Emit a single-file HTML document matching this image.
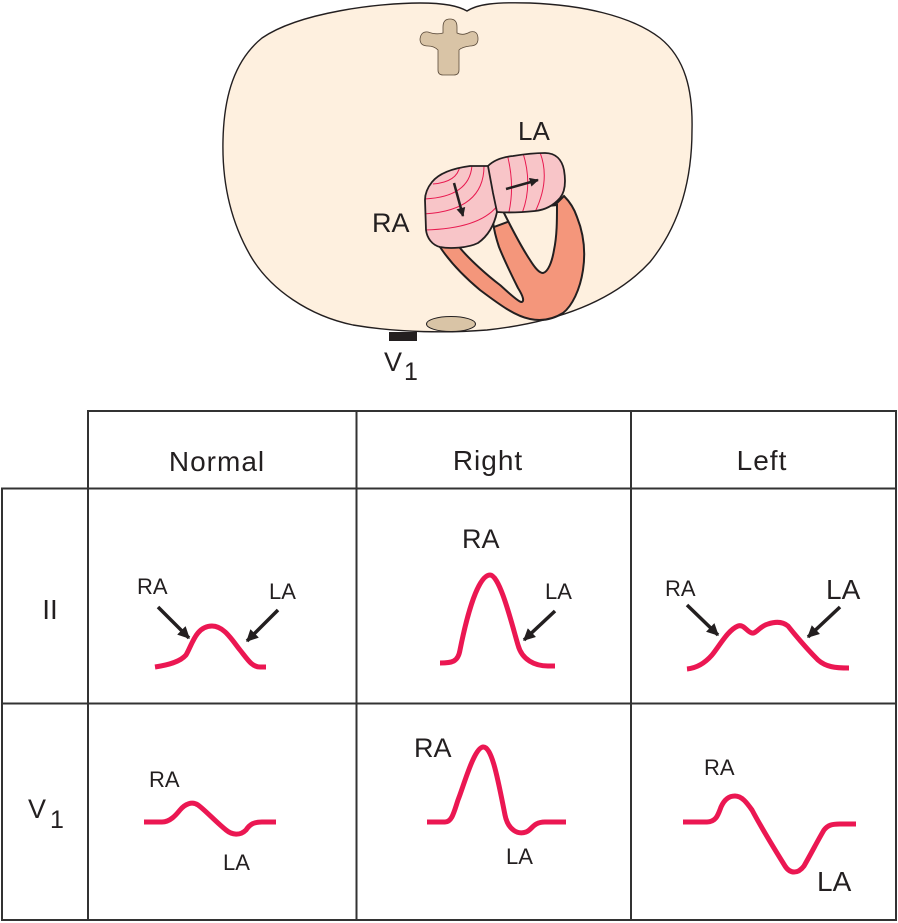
<!DOCTYPE html>
<html><head><meta charset="utf-8"><style>
html,body{margin:0;padding:0;background:#fff;}
svg{display:block;}
text{font-family:"Liberation Sans",Arial,sans-serif;fill:#231f20;}
</style></head><body>
<svg width="898" height="923" viewBox="0 0 898 923" xmlns="http://www.w3.org/2000/svg">
<defs>
<marker id="ah" viewBox="0 0 10 10" refX="9" refY="5" markerWidth="14" markerHeight="12" markerUnits="userSpaceOnUse" orient="auto"><path d="M0,0 L10,5 L0,10 z" fill="#231f20"/></marker>
<marker id="ahs" viewBox="0 0 10 10" refX="9" refY="5" markerWidth="11" markerHeight="9" markerUnits="userSpaceOnUse" orient="auto"><path d="M0,0 L10,5 L0,10 z" fill="#231f20"/></marker>
<clipPath id="raclip"><path d="M 432,182 C 440,172 455,168 470,166 L 488,166 L 493,193 L 497,212 C 494,226 488,236 478,243 C 468,248 450,249 440,247 C 432,245 427,238 426,230 L 425,200 C 425,193 428,187 432,182 Z"/></clipPath>
<clipPath id="laclip"><path d="M 488,166 C 494,160 503,157 513,156 C 525,154 535,153 545,153 C 556,153 562,160 564,170 C 566,182 565,192 560,198 C 553,206 545,210 535,211 C 525,212 510,213 497,212 L 493,193 Z"/></clipPath>
</defs>

<!-- body -->
<path d="M 467,11 C 478,4 495,2 530,3 C 580,5 630,15 660,38 C 685,58 693,90 692,130 C 692,180 680,225 650,262 C 615,300 560,322 487,330 C 450,333 400,333 353,325 C 310,316 270,290 250,255 C 230,220 222,180 223,140 C 224,95 235,60 262,38 C 300,12 380,3 420,3 C 445,3 458,6 467,11 Z" fill="#fef0df" stroke="#231f20" stroke-width="1.4"/>

<!-- spine -->
<path d="M 443,27 Q 443,19 450,19 Q 457,19 457,27 L 457,33 Q 463,36 470,32 Q 478,30 478,39 Q 478,46 470,46 Q 462,47 459,50 L 459,70 Q 459,75 454,75 L 443,75 Q 438,75 438,70 L 438,50 Q 434,46 428,46 Q 420,46 420,39 Q 421,31 428,32 Q 436,35 443,33 Z" fill="#d9c4a6" stroke="#5a4a3a" stroke-width="0.8"/>

<!-- oval -->
<ellipse cx="451" cy="324" rx="24.5" ry="7.5" fill="#d9c4a6" stroke="#231f20" stroke-width="1"/>

<!-- electrode -->
<rect x="389" y="332" width="28" height="9" fill="#231f20"/>
<text x="384" y="371" font-size="27">V</text>
<text x="404" y="380" font-size="25">1</text>

<!-- ventricles -->
<path d="M 440,247 C 450,262 462,275 480,290 C 500,305 515,316 530,319 C 540,321 552,320 563,313 C 572,306 580,290 583,270 C 586,250 583,232 577,217 C 574,208 570,202 564,196 L 556,204 Z" fill="#f4967b" stroke="#231f20" stroke-width="2"/>
<path d="M 460,248 C 470,260 488,276 500,285 C 508,292 516,300 521,302 C 525,302 523,296 518,288 C 512,276 505,262 499,247 C 496,238 494,230 493,222 Z" fill="#fef0df" stroke="#231f20" stroke-width="2"/>
<path d="M 503,211 C 510,225 520,245 530,260 C 535,268 539,273 543,273 C 548,272 552,262 554,250 C 557,236 557,220 557,205 Z" fill="#fef0df" stroke="#231f20" stroke-width="2"/>

<!-- RA -->
<path d="M 432,182 C 440,172 455,168 470,166 L 488,166 L 493,193 L 497,212 C 494,226 488,236 478,243 C 468,248 450,249 440,247 C 432,245 427,238 426,230 L 425,200 C 425,193 428,187 432,182 Z" fill="#f8c5c8"/>
<g clip-path="url(#raclip)" fill="none" stroke="#e8194f" stroke-width="1">
<path d="M 460,165 Q 458,182 433,184"/>
<path d="M 472,165 Q 470,197 424,199"/>
<path d="M 484,166 Q 484,211 423,214"/>
<path d="M 498,205 Q 480,229 423,230"/>
</g>
<!-- LA -->
<path d="M 488,166 C 494,160 503,157 513,156 C 525,154 535,153 545,153 C 556,153 562,160 564,170 C 566,182 565,192 560,198 C 553,206 545,210 535,211 C 525,212 510,213 497,212 L 493,193 Z" fill="#f8c5c8"/>
<g clip-path="url(#laclip)" fill="none" stroke="#e8194f" stroke-width="1">
<path d="M 506,150 Q 516,185 508,216"/>
<path d="M 522,150 Q 534,185 521,216"/>
<path d="M 539,150 Q 552,180 533,216"/>
</g>
<path d="M 432,182 C 440,172 455,168 470,166 L 488,166 L 493,193 L 497,212 C 494,226 488,236 478,243 C 468,248 450,249 440,247 C 432,245 427,238 426,230 L 425,200 C 425,193 428,187 432,182 Z" fill="none" stroke="#231f20" stroke-width="1.8"/>
<path d="M 488,166 C 494,160 503,157 513,156 C 525,154 535,153 545,153 C 556,153 562,160 564,170 C 566,182 565,192 560,198 C 553,206 545,210 535,211 C 525,212 510,213 497,212" fill="none" stroke="#231f20" stroke-width="1.8"/>
<line x1="454" y1="183" x2="463" y2="216" stroke="#231f20" stroke-width="2.5" marker-end="url(#ahs)"/>
<line x1="506" y1="189" x2="538" y2="180" stroke="#231f20" stroke-width="2.5" marker-end="url(#ahs)"/>

<text x="518" y="140" font-size="26">LA</text>
<text x="372" y="232" font-size="27">RA</text>

<!-- table -->
<g stroke="#333" stroke-width="2" fill="none">
<line x1="87" y1="411" x2="897" y2="411"/>
<line x1="1" y1="488.5" x2="897" y2="488.5"/>
<line x1="1" y1="703.5" x2="897" y2="703.5"/>
<line x1="1" y1="920" x2="897" y2="920"/>
<line x1="2" y1="488" x2="2" y2="921"/>
<line x1="88" y1="410" x2="88" y2="921"/>
<line x1="356.5" y1="410" x2="356.5" y2="921"/>
<line x1="631" y1="410" x2="631" y2="921"/>
<line x1="896" y1="410" x2="896" y2="921"/>
</g>

<text x="217" y="471" font-size="28" text-anchor="middle" letter-spacing="1">Normal</text>
<text x="488" y="470" font-size="28" text-anchor="middle" letter-spacing="1">Right</text>
<text x="762" y="470" font-size="28" text-anchor="middle" letter-spacing="1">Left</text>
<text x="50" y="619" font-size="28" text-anchor="middle">II</text>
<text x="28" y="818" font-size="27">V</text>
<text x="50" y="828" font-size="25">1</text>

<!-- ECG traces -->
<g fill="none" stroke="#eb1752" stroke-width="5" stroke-linejoin="round">
<path d="M155,667 C168,665 180,662 186,655 C192,645 196,626 212,626 C224,626 232,640 240,650 C248,660 252,667 260,667 L266,667"/>
<path d="M440,663 C452,663 458,662 460,650 C464,630 476,575 490,575 C500,575 512,625 518,645 C522,660 535,666 548,666 L555,666"/>
<path d="M687,669 C697,668 705,663 712,655 C720,645 728,630 738,626 C744,624 747,632 752,633 C756,634 760,626 768,624 C774,622 782,621 788,626 C796,636 806,648 818,660 C826,667 835,668 849,668"/>
<path d="M144,822 L162,822 C170,822 176,815 180,810 C185,804 192,801 198,805 C205,810 216,822 226,830 C232,835 240,836 246,830 C250,824 254,822 262,822 L276,822"/>
<path d="M427,822 L445,822 C452,822 454,812 458,800 C464,785 474,748 483,747 C492,746 498,780 505,815 C508,830 518,835 526,832 C532,830 533,822 545,822 L566,822"/>
<path d="M683,822 L707,822 C716,822 718,815 721,807 C725,798 730,796 735,796 C742,796 747,803 752,810 C760,825 775,850 785,866 C790,874 798,874 804,866 C812,852 818,840 824,830 C828,825 832,824 840,824 L856,824"/>
</g>

<!-- ECG arrows -->
<g stroke="#231f20" stroke-width="3.5">
<line x1="158" y1="607" x2="189" y2="638" marker-end="url(#ah)"/>
<line x1="278" y1="610" x2="247" y2="641" marker-end="url(#ah)"/>
<line x1="555" y1="611" x2="524" y2="640" marker-end="url(#ah)"/>
<line x1="687" y1="605" x2="718" y2="635" marker-end="url(#ah)"/>
<line x1="840" y1="607" x2="808" y2="637" marker-end="url(#ah)"/>
</g>

<!-- ECG labels -->
<text x="137" y="594" font-size="22">RA</text>
<text x="269" y="599" font-size="22">LA</text>
<text x="462" y="548" font-size="27">RA</text>
<text x="545" y="599" font-size="22">LA</text>
<text x="665" y="596" font-size="22">RA</text>
<text x="826" y="599" font-size="28">LA</text>
<text x="149" y="787" font-size="22">RA</text>
<text x="223" y="870" font-size="22">LA</text>
<text x="414" y="757" font-size="27">RA</text>
<text x="506" y="864" font-size="22">LA</text>
<text x="704" y="775" font-size="22">RA</text>
<text x="817" y="891" font-size="28">LA</text>
</svg>
</body></html>
